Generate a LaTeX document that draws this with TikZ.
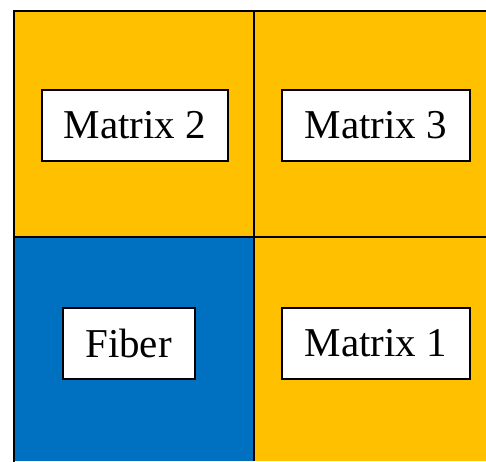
\documentclass[tikz,border=0pt]{standalone}
\usepackage{fontspec}
\setmainfont{Liberation Serif}
\definecolor{cellyellow}{HTML}{FFC000}
\definecolor{cellblue}{HTML}{0070C0}
\tikzset{
  label box/.style={draw=black, line width=2pt, fill=white, inner sep=0pt,
    minimum height=71pt, font=\fontsize{41}{41}\selectfont},
  grid line/.style={draw=black, line width=2pt}
}
\begin{document}
\begin{tikzpicture}[x=1pt,y=-1pt]
\useasboundingbox (0,0) rectangle (486,461);
% cells
\fill[cellyellow] (14,11) rectangle (254,237);
\fill[cellyellow] (254,11) rectangle (486,237);
\fill[cellblue] (14,237) rectangle (254,461);
\fill[cellyellow] (254,237) rectangle (486,461);
% grid lines
\coordinate (tl) at (14,11);
\coordinate (tr) at (486,11);
\coordinate (bl) at (14,461);
\coordinate (mt) at (254,11);
\coordinate (mb) at (254,461);
\coordinate (ml) at (14,237);
\coordinate (mr) at (486,237);
\draw[grid line, line cap=rect] (bl) -- (tl) -- (tr);
\draw[grid line] (mt) -- (mb);
\draw[grid line] (ml) -- (mr);
% labels
\node[label box, minimum width=186pt] (m2) at (135,125) {Matrix 2};
\node[label box, minimum width=188pt] (m3) at (376,125) {Matrix 3};
\node[label box, minimum width=132pt] (fib) at (128.5,343) {Fiber};
\node[label box, minimum width=188pt] (m1) at (376,343) {Matrix 1};
\end{tikzpicture}
\end{document}
